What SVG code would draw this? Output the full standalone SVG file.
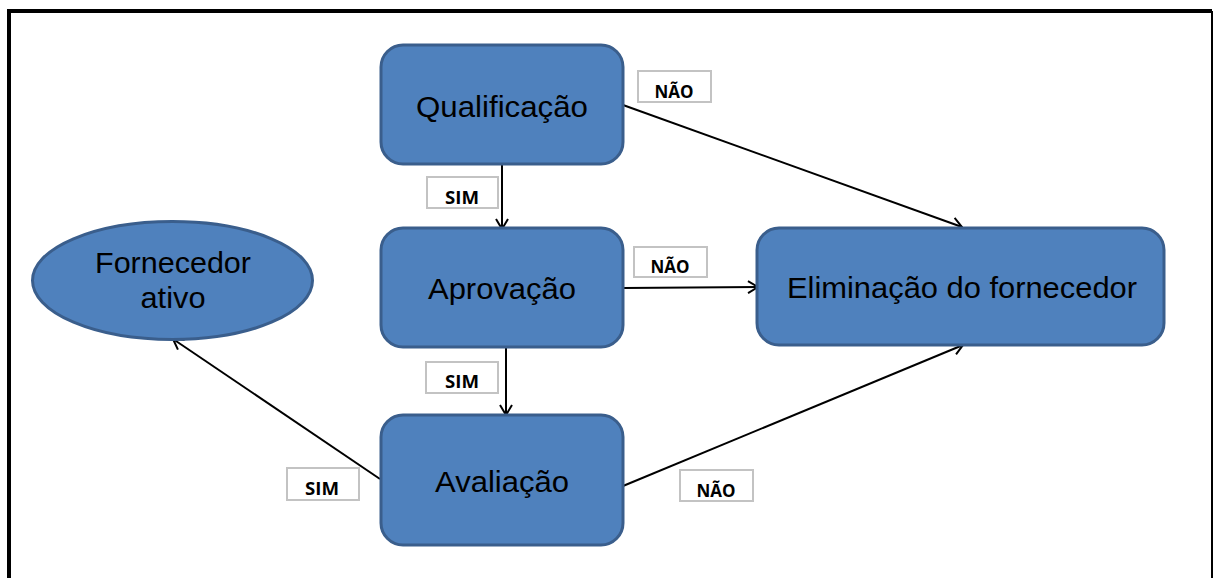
<svg xmlns="http://www.w3.org/2000/svg" width="1213" height="578" viewBox="0 0 1213 578">
  <style>
    .box { fill: #4f81bd; stroke: #3a5e8c; stroke-width: 3; }
    .node-text { font-family: "Liberation Sans", Arial, sans-serif; font-size: 30px; fill: #000; text-anchor: middle; }
    .tag { fill: #fff; stroke: #c3c3c3; stroke-width: 2; }
    .tag-text { font-family: "Open Sans", "Liberation Sans", sans-serif; font-weight: bold; font-size: 17px; fill: #000; text-anchor: middle; }
    .conn { stroke: #000; stroke-width: 2; fill: none; marker-end: url(#arrow); }
  </style>
  <defs>
    <marker id="arrow" viewBox="0 0 12 14" refX="11" refY="7" markerWidth="12" markerHeight="14" markerUnits="userSpaceOnUse" orient="auto">
      <path d="M1,1 L11,7 L1,13" fill="none" stroke="#000" stroke-width="2"/>
    </marker>
  </defs>

  <rect width="1213" height="578" fill="#fff"/>
  <!-- outer frame -->
  <path d="M9,578 L9,11 L1212,11" fill="none" stroke="#000" stroke-width="4"/>
  <line x1="1212" y1="11" x2="1212" y2="578" stroke="#000" stroke-width="2"/>

  <g id="connectors">
    <line class="conn" x1="502" y1="165" x2="502" y2="229"/>
    <line class="conn" x1="623" y1="105" x2="962" y2="227"/>
    <line class="conn" x1="624" y1="288" x2="758" y2="287"/>
    <line class="conn" x1="506" y1="348" x2="506" y2="415"/>
    <line class="conn" x1="623" y1="486" x2="963" y2="345"/>
    <line class="conn" x1="380" y1="479" x2="173" y2="339"/>
  </g>

  <g id="qualificacao">
    <rect class="box" x="381" y="45" width="242" height="119" rx="22"/>
    <text class="node-text" x="502" y="117" textLength="172" lengthAdjust="spacingAndGlyphs">Qualificação</text>
  </g>
  <g id="aprovacao">
    <rect class="box" x="381" y="228" width="242" height="119" rx="22"/>
    <text class="node-text" x="502" y="299" textLength="148" lengthAdjust="spacingAndGlyphs">Aprovação</text>
  </g>
  <g id="avaliacao">
    <rect class="box" x="381" y="415" width="242" height="130" rx="22"/>
    <text class="node-text" x="502" y="492" textLength="134" lengthAdjust="spacingAndGlyphs">Avaliação</text>
  </g>
  <g id="eliminacao">
    <rect class="box" x="757" y="228" width="407" height="117" rx="22"/>
    <text class="node-text" x="962" y="298" textLength="350" lengthAdjust="spacingAndGlyphs">Eliminação do fornecedor</text>
  </g>
  <g id="fornecedor-ativo">
    <ellipse class="box" cx="172.5" cy="280.5" rx="140" ry="59"/>
    <text class="node-text" x="173" y="273" textLength="156" lengthAdjust="spacingAndGlyphs">Fornecedor</text>
    <text class="node-text" x="173" y="308" textLength="65" lengthAdjust="spacingAndGlyphs">ativo</text>
  </g>

  <g id="labels">
    <rect class="tag" x="638" y="71" width="73" height="31"/>
    <text class="tag-text" x="674" y="98" textLength="39" lengthAdjust="spacingAndGlyphs">NÃO</text>
    <rect class="tag" x="427" y="177" width="71" height="31"/>
    <text class="tag-text" x="462" y="204" textLength="34" lengthAdjust="spacingAndGlyphs">SIM</text>
    <rect class="tag" x="634" y="247" width="73" height="30"/>
    <text class="tag-text" x="670" y="273" textLength="39" lengthAdjust="spacingAndGlyphs">NÃO</text>
    <rect class="tag" x="426" y="362" width="72" height="31"/>
    <text class="tag-text" x="462" y="388" textLength="34" lengthAdjust="spacingAndGlyphs">SIM</text>
    <rect class="tag" x="287" y="468" width="72" height="32"/>
    <text class="tag-text" x="322" y="495" textLength="34" lengthAdjust="spacingAndGlyphs">SIM</text>
    <rect class="tag" x="680" y="470" width="73" height="31"/>
    <text class="tag-text" x="716" y="497" textLength="39" lengthAdjust="spacingAndGlyphs">NÃO</text>
  </g>
</svg>
